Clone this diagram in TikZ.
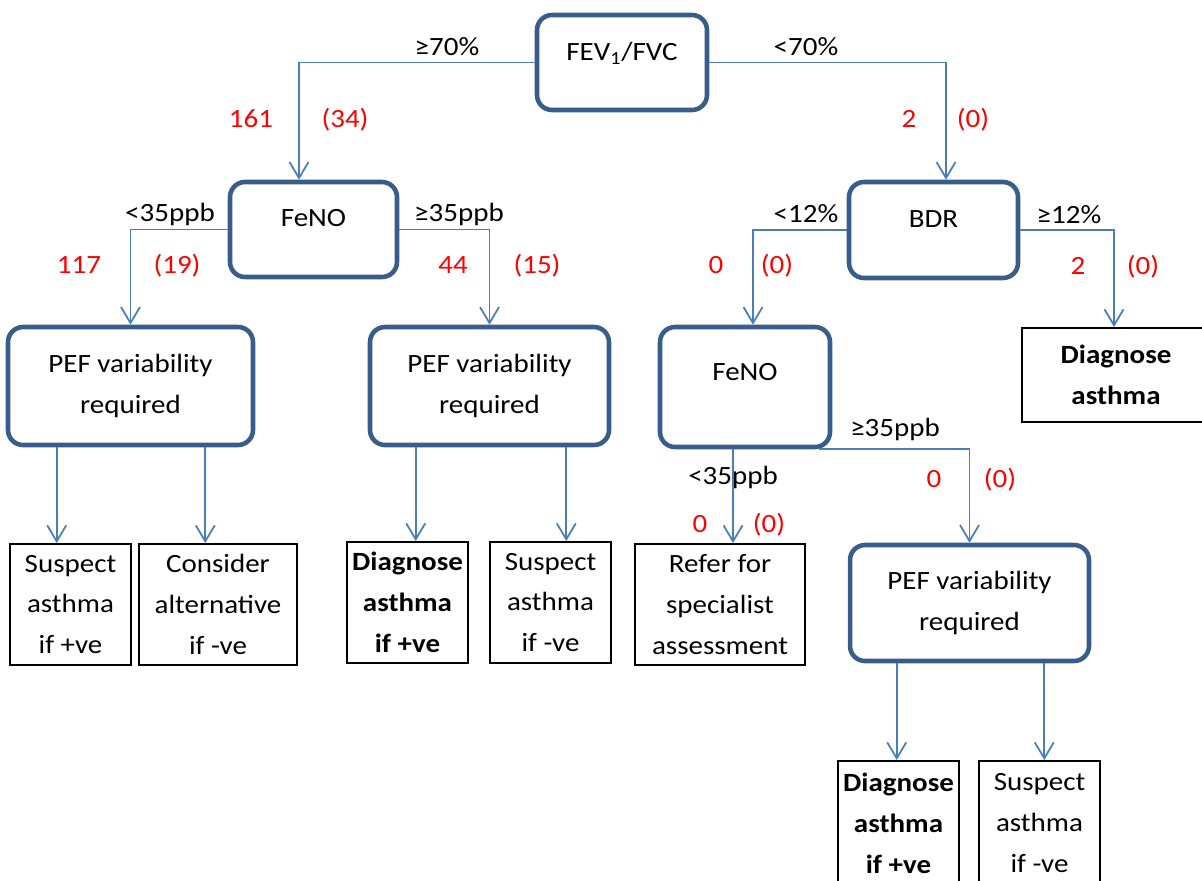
\documentclass[tikz,border=0pt]{standalone}
\usepackage{fontspec}
\setmainfont{Carlito}[FakeStretch=1.1]
\usetikzlibrary{arrows.meta}
\definecolor{boxblue}{RGB}{56,93,138}
\definecolor{lineblue}{RGB}{74,126,187}
\newcommand{\chartfont}{\fontsize{15pt}{23.3pt}\selectfont}

\begin{document}
\begin{tikzpicture}[x=0.02cm,y=-0.02cm,
	font=\chartfont,
	test/.style={rectangle,rounded corners=0.3cm,draw=boxblue,line width=2.6pt,fill=white,align=center,inner sep=0pt},
	upper/.style={text height=0.34cm,text depth=#1},
	result/.style={rectangle,draw=black,line width=1.1pt,fill=white,align=center,inner sep=0pt},
	strong/.style={result,font=\chartfont\bfseries},
	conn/.style={draw=lineblue,line width=1pt,-{Straight Barb[length=0.32cm,width=0.38cm]}},
	cond/.style={inner sep=0pt,text height=0.34cm,text depth=0pt},
	count/.style={cond,text=red}]
	\useasboundingbox (0,0) rectangle (1202,880);

	% tests
	\node[test,upper=0.42cm,minimum width=3.4cm,minimum height=1.9cm]	(fev)	at (622,62.5)	{FEV\textsubscript{1}/FVC};
	\node[test,upper=0.46cm,minimum width=3.34cm,minimum height=1.9cm]	(feno1)	at (313.5,229.5)	{FeNO};
	\node[test,upper=0.46cm,minimum width=3.38cm,minimum height=1.92cm]	(bdr)	at (933.5,230)	{BDR};
	\node[test,upper=0.6cm,minimum width=3.4cm,minimum height=2.4cm]	(feno2)	at (745,387)	{FeNO};
	\node[test,minimum width=4.9cm,minimum height=2.36cm]	(pef1)	at (130.5,386)	{PEF variability\\required};
	\node[test,minimum width=4.78cm,minimum height=2.36cm]	(pef2)	at (489.5,386)	{PEF variability\\required};
	\node[test,minimum width=4.78cm,minimum height=2.32cm]	(pef3)	at (969.5,603)	{PEF variability\\required};

	% outcomes
	\node[strong,minimum width=3.76cm,minimum height=1.88cm]	(diag0)	at (1116,375)	{Diagnose\\asthma};
	\node[result,minimum width=2.42cm,minimum height=2.42cm]	(sus1)	at (70.5,604.5)	{Suspect\\asthma\\if +ve};
	\node[result,minimum width=3.16cm,minimum height=2.42cm]	(cons)	at (218,604.5)	{Consider\\alternative\\if -ve};
	\node[strong,minimum width=2.42cm,minimum height=2.42cm]	(diag1)	at (407.5,602.5)	{Diagnose\\asthma\\if +ve};
	\node[result,minimum width=2.42cm,minimum height=2.42cm]	(sus2)	at (550.5,602.5)	{Suspect\\asthma\\if -ve};
	\node[result,minimum width=3.4cm,minimum height=2.42cm]	(refer)	at (720,604.5)	{Refer for\\specialist\\assessment};
	\node[strong,minimum width=2.42cm,minimum height=2.48cm]	(diag3)	at (898.5,823)	{Diagnose\\asthma\\if +ve};
	\node[result,minimum width=2.42cm,minimum height=2.48cm]	(sus3)	at (1039.5,823)	{Suspect\\asthma\\if -ve};

	% branches
	\draw[conn] (fev.west) -| ([xshift=-0.29cm]feno1.north);
	\draw[conn] (fev.east) -| ([xshift=0.25cm]bdr.north);
	\draw[conn] (feno1.west) -| (pef1.north);
	\draw[conn] (feno1.east) -| (pef2.north);
	\draw[conn] (bdr.west) -| ([xshift=0.16cm]feno2.north);
	\draw[conn] (bdr.east) -| ([xshift=-0.04cm]diag0.north);
	\draw[conn] ([xshift=-0.24cm]feno2.south) -- ([xshift=-0.24cm]feno2.south |- refer.north);
	\draw[conn] ([xshift=-0.26cm]feno2.south east) -| (pef3.north);
	\draw[conn] ([xshift=1.02cm]pef1.south west) -- ([xshift=1.02cm]pef1.south west |- sus1.north);
	\draw[conn] ([xshift=-1cm]pef1.south east) -- ([xshift=-1cm]pef1.south east |- cons.north);
	\draw[conn] ([xshift=0.96cm]pef2.south west) -- ([xshift=0.96cm]pef2.south west |- diag1.north);
	\draw[conn] ([xshift=-0.9cm]pef2.south east) -- ([xshift=-0.9cm]pef2.south east |- sus2.north);
	\draw[conn] ([xshift=0.98cm]pef3.south west) -- ([xshift=0.98cm]pef3.south west |- diag3.north);
	\draw[conn] ([xshift=-0.94cm]pef3.south east) -- ([xshift=-0.94cm]pef3.south east |- sus3.north);

	% conditions
	\node[cond]	(c70a)	at (447,47)	{≥70\%};
	\node[cond]	(c70b)	at (806,47)	{<70\%};
	\node[cond]	(c35a)	at (170,213)	{<35ppb};
	\node[cond]	(c35b)	at (459,213)	{≥35ppb};
	\node[cond]	(c12a)	at (806,214)	{<12\%};
	\node[cond]	(c12b)	at (1069,215)	{≥12\%};
	\node[cond]	(c35c)	at (733,476)	{<35ppb};
	\node[cond]	(c35d)	at (895,428)	{≥35ppb};

	% counts
	\node[count]	(n1)	at (251,119)	{161};
	\node[count]	(m1)	at (345,119)	{(34)};
	\node[count]	(n2)	at (909,119)	{2};
	\node[count]	(m2)	at (973,119)	{(0)};
	\node[count]	(n3)	at (79,265)	{117};
	\node[count]	(m3)	at (177,265)	{(19)};
	\node[count]	(n4)	at (453,265)	{44};
	\node[count]	(m4)	at (537,265)	{(15)};
	\node[count]	(n5)	at (716,265)	{0};
	\node[count]	(m5)	at (777,265)	{(0)};
	\node[count]	(n6)	at (1078,266)	{2};
	\node[count]	(m6)	at (1143,266)	{(0)};
	\node[count]	(n7)	at (934,479)	{0};
	\node[count]	(m7)	at (1000,479)	{(0)};
	\node[count]	(n8)	at (700,524)	{0};
	\node[count]	(m8)	at (769,524)	{(0)};
\end{tikzpicture}
\end{document}
